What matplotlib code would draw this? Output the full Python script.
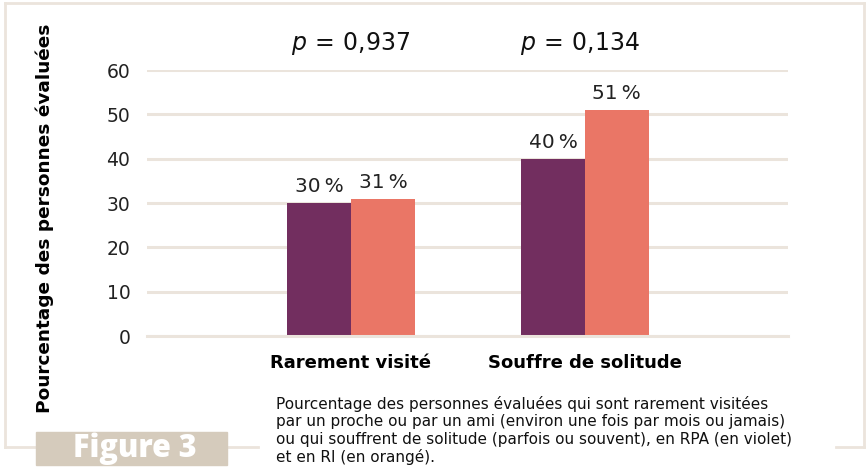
import numpy as np
import matplotlib.pyplot as plt
from matplotlib.patches import Rectangle
from matplotlib.lines import Line2D

# donnees
categories = ["Rarement visité", "Souffre de solitude"]
rpa = [30, 40]        # violet
ri = [31, 51]         # orange
pvals = ["0,937", "0,134"]
yticks = [0, 10, 20, 30, 40, 50, 60]

violet = "#722e5f"
orange = "#ea7666"
beige = "#ebe4dc"

W, H = 867, 473
fig = plt.figure(figsize=(W / 100, H / 100), dpi=100)
plt.rcParams['mathtext.fontset'] = 'dejavusans'

def fx(px):
    return px / W

def fy(py):
    return 1 - py / H

ax = fig.add_axes([fx(147), fy(336), fx(788) - fx(147), fy(70) - fy(336)])
x = np.arange(len(categories))
w = 0.273
b1 = ax.bar(x - w / 2, rpa, w, color=violet, zorder=2)
b2 = ax.bar(x + w / 2, ri, w, color=orange, zorder=2)

for bars, vals in ((b1, rpa), (b2, ri)):
    for r, v in zip(bars, vals):
        ax.annotate(f"{v}\u2009%", (r.get_x() + r.get_width() / 2, v),
                    xytext=(0, 5), textcoords="offset points",
                    ha="center", va="bottom", fontsize=14.5, color="#222222")

for i, p in enumerate(pvals):
    ax.text(x[i] - 0.02 * i, 66, r"$p\,=\,$" + p, ha="center", va="center",
            fontsize=17, color="#111111", clip_on=False)

ax.set_xlim(-0.872, 1.868)
ax.set_ylim(0, 60)
ax.set_yticks(yticks)
ax.set_xticks(x)
ax.set_xticklabels(categories, fontsize=13, fontweight="bold")
ax.tick_params(axis="both", length=0)
ax.tick_params(axis="y", pad=12, labelsize=13.5, labelcolor="#222222")
ax.tick_params(axis="x", pad=13)
ax.grid(axis="y", color=beige, linewidth=2.2, zorder=0)
ax.axhline(0, color=beige, linewidth=2.2, zorder=3, clip_on=False)
for s in ax.spines.values():
    s.set_visible(False)
ax.set_axisbelow(True)

fig.text(fx(45), fy(218), "Pourcentage des personnes évaluées", rotation=90,
         ha="center", va="center", fontsize=13.3, fontweight="heavy")

# cadre
lw = 2
segs = [((5, 864), (3, 3)), ((5, 5), (3, 447)), ((864, 864), (3, 447)),
        ((5, 36), (447, 447)), ((227, 258), (447, 447)), ((836, 864), (447, 447))]
for xs, ys in segs:
    fig.add_artist(Line2D([fx(v) for v in xs], [fy(v) for v in ys],
                          color=beige, linewidth=lw))

fig.add_artist(Rectangle((fx(36), fy(465)), fx(227) - fx(36), fy(432) - fy(465),
                         color="#d5cbbc", zorder=3))
fig.text(fx(135), fy(449), "Figure 3", ha="center", va="center", color="white",
         fontsize=22, fontweight="heavy", family="Open Sans", zorder=4)

caption = ("Pourcentage des personnes évaluées qui sont rarement visitées\n"
           "par un proche ou par un ami (environ une fois par mois ou jamais)\n"
           "ou qui souffrent de solitude (parfois ou souvent), en RPA (en violet)\n"
           "et en RI (en orangé).")
fig.text(fx(276), fy(396), caption, ha="left", va="top", fontsize=11,
         linespacing=1.2, color="#111111")

fig.savefig("out.png", dpi=100)
